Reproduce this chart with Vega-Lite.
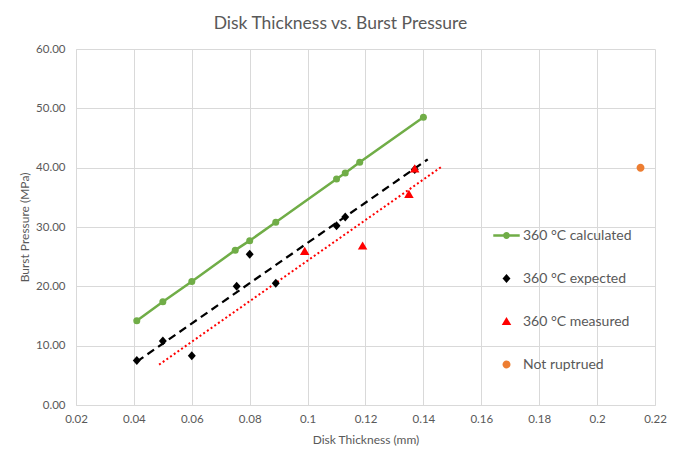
{
  "$schema": "https://vega.github.io/schema/vega-lite/v6.json",
  "autosize": {"type": "none"},
  "width": 579,
  "height": 356,
  "padding": {"left": 76, "top": 49, "right": 25, "bottom": 61},
  "background": "white",
  "config": {
    "font": "Lato",
    "view": {"stroke": null},
    "axis": {
      "grid": true,
      "gridColor": "#D9D9D9",
      "gridWidth": 1,
      "domainColor": "#D9D9D9",
      "domainWidth": 1,
      "ticks": false,
      "labelFlush": false,
      "labelFont": "Lato",
      "labelFontSize": 11.5,
      "labelColor": "#595959",
      "titleFont": "Lato",
      "titleFontSize": 12,
      "titleFontWeight": "normal",
      "titleColor": "#595959"
    }
  },
  "title": {
    "text": "Disk Thickness vs. Burst Pressure",
    "font": "Lato",
    "fontSize": 17.5,
    "fontWeight": "normal",
    "color": "#595959",
    "anchor": "middle",
    "dx": -25,
    "baseline": "alphabetic",
    "offset": -3
  },
  "datasets": {
    "calculated": [
      {"series": "360 °C calculated", "thickness": 0.041, "pressure": 14.2},
      {"series": "360 °C calculated", "thickness": 0.05, "pressure": 17.4},
      {"series": "360 °C calculated", "thickness": 0.06, "pressure": 20.8},
      {"series": "360 °C calculated", "thickness": 0.075, "pressure": 26.1},
      {"series": "360 °C calculated", "thickness": 0.08, "pressure": 27.7},
      {"series": "360 °C calculated", "thickness": 0.089, "pressure": 30.8},
      {"series": "360 °C calculated", "thickness": 0.11, "pressure": 38.1},
      {"series": "360 °C calculated", "thickness": 0.113, "pressure": 39.1},
      {"series": "360 °C calculated", "thickness": 0.118, "pressure": 40.9},
      {"series": "360 °C calculated", "thickness": 0.14, "pressure": 48.5}
    ],
    "scatter": [
      {"series": "360 °C expected", "thickness": 0.041, "pressure": 7.5},
      {"series": "360 °C expected", "thickness": 0.05, "pressure": 10.8},
      {"series": "360 °C expected", "thickness": 0.06, "pressure": 8.3},
      {"series": "360 °C expected", "thickness": 0.0755, "pressure": 20.0},
      {"series": "360 °C expected", "thickness": 0.08, "pressure": 25.4},
      {"series": "360 °C expected", "thickness": 0.089, "pressure": 20.5},
      {"series": "360 °C expected", "thickness": 0.11, "pressure": 30.2},
      {"series": "360 °C expected", "thickness": 0.113, "pressure": 31.7},
      {"series": "360 °C expected", "thickness": 0.137, "pressure": 39.7},
      {"series": "360 °C measured", "thickness": 0.099, "pressure": 25.9},
      {"series": "360 °C measured", "thickness": 0.119, "pressure": 26.8},
      {"series": "360 °C measured", "thickness": 0.135, "pressure": 35.5},
      {"series": "360 °C measured", "thickness": 0.137, "pressure": 39.8},
      {"series": "Not ruptrued", "thickness": 0.215, "pressure": 40.0}
    ],
    "trendExpected": [
      {"thickness": 0.041, "pressure": 7.3},
      {"thickness": 0.1415, "pressure": 41.4}
    ],
    "trendMeasured": [
      {"thickness": 0.0487, "pressure": 6.8},
      {"thickness": 0.1464, "pressure": 40.2}
    ]
  },
  "layer": [
    {
      "data": {"name": "trendMeasured"},
      "mark": {"type": "line", "color": "#FF0000", "strokeWidth": 2, "strokeDash": [2, 2.5]},
      "encoding": {
        "x": {"field": "thickness", "type": "quantitative", "scale": {"domain": [0.02, 0.22], "nice": false, "zero": false},
              "axis": {"values": [0.02, 0.04, 0.06, 0.08, 0.1, 0.12, 0.14, 0.16, 0.18, 0.2, 0.22], "format": ".2~f", "labelPadding": 8, "title": "Disk Thickness (mm)", "titlePadding": 10}},
        "y": {"field": "pressure", "type": "quantitative", "scale": {"domain": [0, 60], "nice": false},
              "axis": {"values": [0, 10, 20, 30, 40, 50, 60], "format": ".2f", "labelPadding": 11, "title": "Burst Pressure (MPa)", "titlePadding": 4}}
      }
    },
    {
      "data": {"name": "trendExpected"},
      "mark": {"type": "line", "color": "#000000", "strokeWidth": 2.25, "strokeDash": [8, 5]},
      "encoding": {
        "x": {"field": "thickness", "type": "quantitative"},
        "y": {"field": "pressure", "type": "quantitative"}
      }
    },
    {
      "data": {"name": "calculated"},
      "mark": {"type": "line", "color": "#70AD47", "strokeWidth": 2.5, "point": {"filled": true, "size": 49, "color": "#70AD47", "opacity": 1}},
      "encoding": {
        "x": {"field": "thickness", "type": "quantitative"},
        "y": {"field": "pressure", "type": "quantitative"}
      }
    },
    {
      "data": {"name": "scatter"},
      "mark": {"type": "point", "filled": true, "size": 700, "opacity": 1},
      "encoding": {
        "x": {"field": "thickness", "type": "quantitative"},
        "y": {"field": "pressure", "type": "quantitative"},
        "color": {
          "field": "series", "type": "nominal",
          "scale": {"domain": ["360 °C calculated", "360 °C expected", "360 °C measured", "Not ruptrued"],
                    "range": ["#70AD47", "#000000", "#FF0000", "#ED7D31"]},
          "legend": {
            "title": null, "orient": "none", "legendX": 417, "legendY": 173,
            "direction": "vertical", "symbolSize": 700, "rowPadding": 22,
            "labelFont": "Lato", "labelFontSize": 14, "labelColor": "#595959",
            "labelOffset": 3, "padding": 0, "symbolStrokeWidth": 0
          }
        },
        "shape": {
          "field": "series", "type": "nominal",
          "scale": {"domain": ["360 °C calculated", "360 °C expected", "360 °C measured", "Not ruptrued"],
                    "range": [
                      "M-1,-0.1H1V0.1H-1Z M-0.26,0A0.26,0.26 0 1,1 0.26,0A0.26,0.26 0 1,1 -0.26,0Z",
                      "M0,-0.34L0.3,0L0,0.34L-0.3,0Z",
                      "M0,-0.34L0.36,0.27L-0.36,0.27Z",
                      "M-0.3,0A0.3,0.3 0 1,1 0.3,0A0.3,0.3 0 1,1 -0.3,0Z"
                    ]},
          "legend": {
            "title": null, "orient": "none", "legendX": 417, "legendY": 173,
            "direction": "vertical", "symbolSize": 700, "rowPadding": 22,
            "labelFont": "Lato", "labelFontSize": 14, "labelColor": "#595959",
            "labelOffset": 3, "padding": 0, "symbolStrokeWidth": 0
          }
        }
      }
    }
  ]
}
